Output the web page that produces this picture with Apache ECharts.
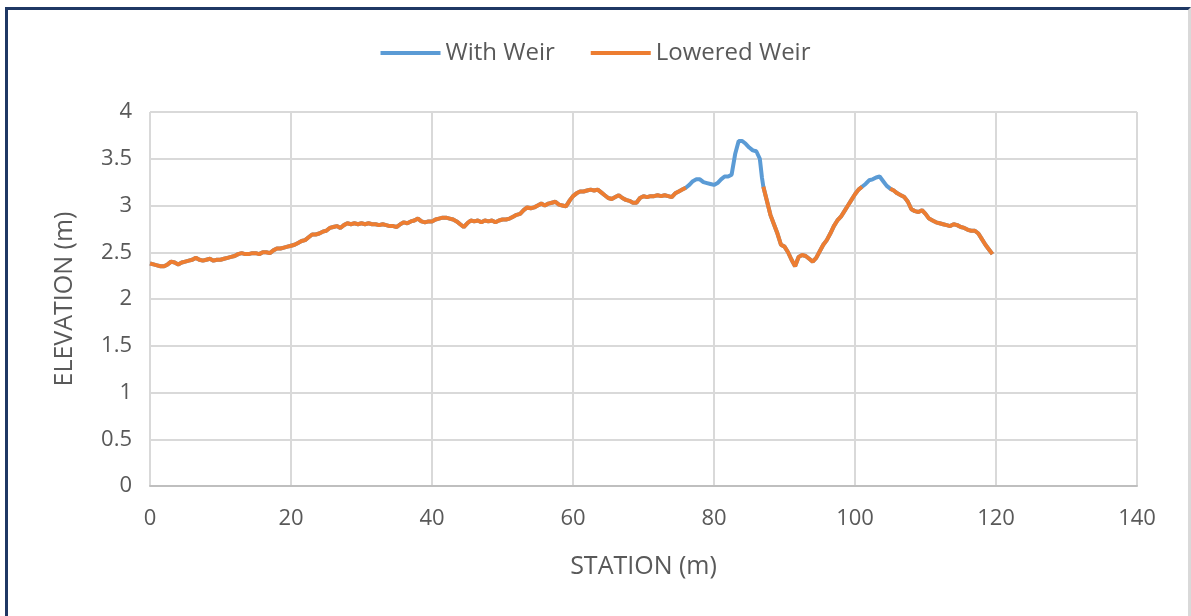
<!DOCTYPE html>
<html>
<head>
<meta charset="utf-8">
<script src="https://cdn.jsdelivr.net/npm/echarts@6/dist/echarts.min.js"></script>
<style>
  html, body { margin: 0; padding: 0; background: #ffffff; }
  #chart { position: absolute; left: 0; top: 0; width: 1191px; height: 616px; }
  #frame {
    position: absolute; left: 5px; top: 7px; width: 1180px; height: 620px;
    border-left: 3px solid #1f3864; border-top: 3px solid #1f3864;
    border-right: 3px solid #d9d9d9; pointer-events: none;
  }
</style>
</head>
<body>
<div id="chart"></div>
<div id="frame"></div>
<script>
// Surveyed ground profile (station in m, elevation in m), split where the weir crest sits
const groundAStations = [0,0.5,1,1.5,2,2.5,3,3.5,4,4.5,5,5.5,6,6.5,7,7.5,8,8.5,9,9.5,10,10.5,11,11.5,12,12.5,13,13.5,14,14.5,15,15.5,16,16.5,17,17.5,18,18.5,19,19.5,20,20.5,21,21.5,22,22.5,23,23.5,24,24.5,25,25.5,26,26.5,27,27.5,28,28.5,29,29.5,30,30.5,31,31.5,32,32.5,33,33.5,34,34.5,35,35.5,36,36.5,37,37.5,38,38.5,39,39.5,40,40.5,41,41.5,42,42.5,43,43.5,44,44.5,45,45.5,46,46.5,47,47.5,48,48.5,49,49.5,50,50.5,51,51.5,52,52.5,53,53.5,54,54.5,55,55.5,56,56.5,57,57.5,58,58.5,59,59.5,60,60.5,61,61.5,62,62.5,63,63.5,64,64.5,65,65.5,66,66.5,67,67.5,68,68.5,69,69.5,70,70.5,71,71.5,72,72.5,73,73.5,74,74.5,75,75.5,76];
const groundAElev = [2.38,2.37,2.36,2.35,2.35,2.37,2.40,2.39,2.37,2.39,2.40,2.41,2.42,2.44,2.42,2.41,2.42,2.43,2.41,2.42,2.42,2.43,2.44,2.45,2.46,2.48,2.49,2.48,2.48,2.49,2.49,2.48,2.50,2.50,2.49,2.52,2.54,2.54,2.55,2.56,2.57,2.58,2.60,2.62,2.63,2.66,2.69,2.69,2.70,2.72,2.73,2.76,2.77,2.78,2.76,2.79,2.81,2.80,2.81,2.80,2.81,2.80,2.81,2.80,2.80,2.79,2.80,2.79,2.78,2.78,2.77,2.80,2.82,2.81,2.83,2.84,2.86,2.83,2.82,2.83,2.83,2.85,2.86,2.87,2.87,2.86,2.85,2.83,2.80,2.77,2.81,2.84,2.83,2.84,2.82,2.84,2.83,2.84,2.82,2.84,2.85,2.85,2.86,2.88,2.90,2.91,2.95,2.98,2.97,2.98,3.00,3.02,3.00,3.02,3.03,3.04,3.01,3.00,2.99,3.05,3.10,3.13,3.15,3.15,3.16,3.17,3.16,3.17,3.14,3.11,3.08,3.07,3.09,3.11,3.08,3.06,3.05,3.03,3.03,3.08,3.10,3.09,3.10,3.10,3.11,3.10,3.11,3.10,3.09,3.13,3.15,3.17,3.19];

const groundBStations = [87,87.5,88,88.5,89,89.5,90,90.5,91,91.5,92,92.5,93,93.5,94,94.5,95,95.5,96,96.5,97,97.5,98,98.5,99,99.5,100,100.5,101];
const groundBElev = [3.20,3.05,2.90,2.80,2.70,2.58,2.56,2.50,2.42,2.35,2.45,2.47,2.46,2.43,2.40,2.44,2.51,2.58,2.63,2.70,2.78,2.84,2.88,2.94,3.00,3.06,3.12,3.17,3.20];

const groundCStations = [105,105.5,106,106.5,107,107.5,108,108.5,109,109.5,110,110.5,111,111.5,112,112.5,113,113.5,114,114.5,115,115.5,116,116.5,117,117.5,118,118.5,119,119.5];
const groundCElev = [3.18,3.16,3.13,3.11,3.09,3.04,2.96,2.94,2.93,2.95,2.91,2.86,2.84,2.82,2.81,2.80,2.79,2.78,2.80,2.79,2.77,2.76,2.74,2.73,2.73,2.70,2.64,2.58,2.53,2.48];

// Weir crest sections (present only in the "With Weir" case)
const weir1Stations = [76.5,77,77.5,78,78.5,79,79.5,80,80.5,81,81.5,82,82.5,83,83.5,84,84.5,85,85.5,86,86.5,86.8];
const weir1Elev = [3.22,3.26,3.28,3.28,3.25,3.24,3.23,3.22,3.24,3.28,3.31,3.31,3.33,3.55,3.69,3.69,3.66,3.62,3.59,3.58,3.50,3.30];
const weir2Stations = [101.5,102,102.5,103,103.5,104,104.5];
const weir2Elev = [3.23,3.27,3.28,3.30,3.31,3.26,3.21];

const xTicks = [0,20,40,60,80,100,120,140];
const yTicks = [0,0.5,1,1.5,2,2.5,3,3.5,4];

function pairs(st, el) { return st.map((s, i) => [s, el[i]]); }

const withWeir = [].concat(
  pairs(groundAStations, groundAElev),
  pairs(weir1Stations, weir1Elev),
  pairs(groundBStations, groundBElev),
  pairs(weir2Stations, weir2Elev),
  pairs(groundCStations, groundCElev)
);
const lowered = [].concat(
  pairs(groundAStations, groundAElev), [[null, null]],
  pairs(groundBStations, groundBElev), [[null, null]],
  pairs(groundCStations, groundCElev)
);

const FONT = '"Open Sans", "Liberation Sans", sans-serif';
const TXT = '#595959';
const GRID = '#d9d9d9';

const chart = echarts.init(document.getElementById('chart'), null, { renderer: 'canvas' });
chart.setOption({
  animation: false,
  backgroundColor: '#ffffff',
  textStyle: { fontFamily: FONT, color: TXT },
  legend: {
    top: 36,
    left: 'center',
    itemWidth: 60,
    itemHeight: 4,
    itemGap: 36,
    icon: 'rect',
    textStyle: { fontFamily: FONT, fontSize: 24, color: TXT },
    data: ['With Weir', 'Lowered Weir']
  },
  grid: { left: 150, right: 54, top: 112, bottom: 130, containLabel: false },
  xAxis: {
    type: 'value',
    min: xTicks[0], max: xTicks[xTicks.length - 1], interval: 20,
    name: 'STATION (m)',
    nameLocation: 'middle',
    nameGap: 68,
    nameTextStyle: { fontFamily: FONT, fontSize: 25, color: TXT },
    axisLine: { show: true, lineStyle: { color: '#bfbfbf', width: 2 } },
    axisTick: { show: false },
    axisLabel: { margin: 22, fontFamily: FONT, fontSize: 22, color: TXT },
    splitLine: { show: true, lineStyle: { color: GRID, width: 2 } }
  },
  yAxis: {
    type: 'value',
    min: yTicks[0], max: yTicks[yTicks.length - 1], interval: 0.5,
    name: 'ELEVATION (m)',
    nameLocation: 'middle',
    nameGap: 73,
    nameRotate: 90,
    nameTextStyle: { fontFamily: FONT, fontSize: 25, color: TXT },
    axisLine: { show: false },
    axisTick: { show: false },
    axisLabel: { margin: 18, fontFamily: FONT, fontSize: 22, color: TXT },
    splitLine: { show: true, lineStyle: { color: GRID, width: 2 } }
  },
  series: [
    {
      name: 'With Weir', type: 'line', data: withWeir,
      showSymbol: false, symbol: 'none',
      itemStyle: { color: '#5b9bd5' },
      lineStyle: { color: '#5b9bd5', width: 4 },
      z: 2
    },
    {
      name: 'Lowered Weir', type: 'line', data: lowered,
      showSymbol: false, symbol: 'none', connectNulls: false,
      itemStyle: { color: '#ed7d31' },
      lineStyle: { color: '#ed7d31', width: 4 },
      z: 3
    }
  ]
});
</script>
</body>
</html>
